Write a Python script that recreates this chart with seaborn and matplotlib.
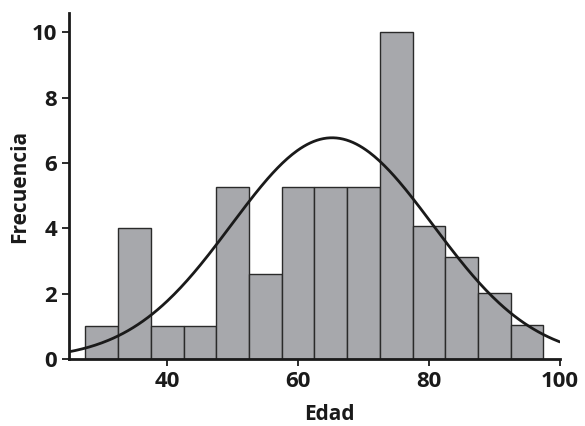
import matplotlib
matplotlib.use("Agg")
import matplotlib.pyplot as plt
import numpy as np
import pandas as pd
import seaborn as sns

# histogram (bin centres, width 5)
edad = [30, 35, 40, 45, 50, 55, 60, 65, 70, 75, 80, 85, 90, 95]
frecuencia = [1.0, 4.0, 1.0, 1.0, 5.26, 2.62, 5.26, 5.26, 5.26, 10.0, 4.08, 3.14, 2.03, 1.04]
bin_edges = [27.5, 32.5, 37.5, 42.5, 47.5, 52.5, 57.5, 62.5, 67.5, 72.5, 77.5, 82.5, 87.5, 92.5, 97.5]

# fitted normal curve
curve_mean = 65.2
curve_sd = 15.4
curve_n = 52.3
bin_width = 5

df = pd.DataFrame({"Edad": edad, "Frecuencia": frecuencia})

sns.set_style("ticks")
plt.rcParams["font.family"] = ["Open Sans", "DejaVu Sans"]

fig = plt.figure(figsize=(5.85, 4.26), dpi=100)
ax = fig.add_axes([0.118, 0.157, 0.839, 0.813])

sns.histplot(data=df, x="Edad", weights="Frecuencia", bins=bin_edges,
             color="#a7a8ac", edgecolor="#2a2a2a", linewidth=1.0, alpha=1.0, ax=ax)

xs = np.linspace(25, 100, 300)
ys = curve_n * bin_width * np.exp(-0.5 * ((xs - curve_mean) / curve_sd) ** 2) / (curve_sd * np.sqrt(2 * np.pi))
sns.lineplot(x=xs, y=ys, color="#1a1a1a", linewidth=2.0, ax=ax)

ax.set_xlim(25, 100)
ax.set_ylim(0, 10.6)
ax.set_xticks([40, 60, 80, 100])
ax.set_yticks([0, 2, 4, 6, 8, 10])
ax.set_xlabel("Edad", fontsize=15, fontweight="bold", color="#1a1a1a")
ax.set_ylabel("Frecuencia", fontsize=15, fontweight="bold", color="#1a1a1a")
ax.xaxis.set_label_coords(0.53, -0.13)
ax.yaxis.set_label_coords(-0.08, 0.5)
ax.tick_params(labelsize=16, length=5, width=1.3, colors="#1a1a1a")
for lab in ax.get_xticklabels() + ax.get_yticklabels():
    lab.set_fontweight("bold")
for s in ["left", "bottom"]:
    ax.spines[s].set_linewidth(2.0)
    ax.spines[s].set_color("#1a1a1a")
sns.despine(ax=ax)

fig.savefig("out.png", dpi=100)
